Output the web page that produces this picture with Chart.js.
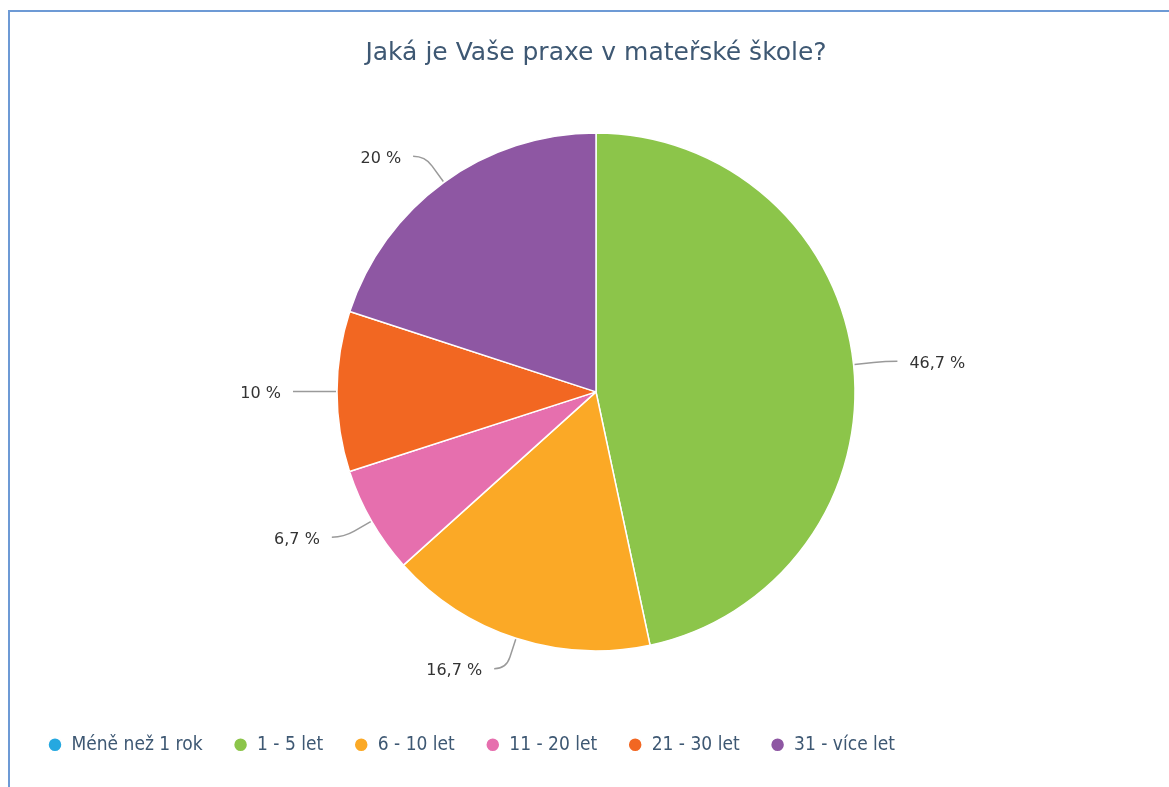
<!DOCTYPE html>
<html>
<head>
<meta charset="utf-8">
<script src="https://cdn.jsdelivr.net/npm/chart.js@4"></script>
<style>
  html, body { margin: 0; padding: 0; background: #fff; overflow: hidden; }
  #frame { position: absolute; left: 8px; top: 10px; width: 1400px; height: 1000px;
           border-top: 2px solid #6d9ad5; border-left: 2px solid #6d9ad5; }
  #wrap { position: absolute; left: 12px; top: 0; width: 1168px; height: 787px; }
</style>
</head>
<body>
<div id="frame"></div>
<div id="wrap"><canvas id="c" width="1168" height="787"></canvas></div>
<script>
const titleText = 'Jaká je Vaše praxe v mateřské škole?';
const categories = ['Méně než 1 rok', '1 - 5 let', '6 - 10 let', '11 - 20 let', '21 - 30 let', '31 - více let'];
const values = [0, 46.7, 16.7, 6.7, 10, 20];
const valueLabels = ['0 %', '46,7 %', '16,7 %', '6,7 %', '10 %', '20 %'];
const colors = ['#25a8e0', '#8cc54a', '#fba926', '#e66fae', '#f26722', '#8e57a3'];

const leaderLabels = {
  id: 'leaderLabels',
  afterDatasetsDraw(chart) {
    const ctx = chart.ctx;
    const meta = chart.getDatasetMeta(0);
    ctx.save();
    meta.data.forEach((arc, i) => {
      if (!values[i]) return;
      const p = arc.getProps(['x', 'y', 'startAngle', 'endAngle', 'outerRadius'], true);
      const a = (p.startAngle + p.endAngle) / 2;
      const c = Math.cos(a), s = Math.sin(a);
      const r = p.outerRadius;
      const sign = c >= 0 ? 1 : -1;
      const x0 = p.x + c * (r + 1), y0 = p.y + s * (r + 1);
      const xa = p.x + c * (r + 20), ya = p.y + s * (r + 20);
      const x1 = p.x + c * (r + 32), y1 = p.y + s * (r + 32);
      const x2 = x1 + sign * 12, y2 = y1;
      ctx.strokeStyle = '#9a9a9a';
      ctx.lineWidth = 1.5;
      ctx.beginPath();
      ctx.moveTo(x0, y0);
      ctx.lineTo(xa, ya);
      ctx.quadraticCurveTo(x1, y1, x2, y2);
      ctx.stroke();
      ctx.fillStyle = '#333333';
      ctx.font = '16px "DejaVu Sans"';
      ctx.textBaseline = 'middle';
      ctx.textAlign = sign > 0 ? 'left' : 'right';
      ctx.fillText(valueLabels[i], x2 + sign * 12, y2 + 2.5);
    });
    ctx.restore();
  }
};

new Chart(document.getElementById('c'), {
  type: 'pie',
  data: {
    labels: categories,
    datasets: [{
      data: values,
      backgroundColor: colors,
      borderColor: '#ffffff',
      borderWidth: 1.5
    }]
  },
  options: {
    responsive: false,
    animation: false,
    radius: 259,
    layout: { padding: { top: 0, bottom: 22.7, left: 5, right: 5 } },
    plugins: {
      title: {
        display: true,
        text: titleText,
        color: '#3e5873',
        font: { family: '"DejaVu Sans"', size: 25, weight: 'normal' },
        padding: { top: 38, bottom: 11.5 }
      },
      legend: {
        display: true,
        position: 'bottom',
        align: 'start',
        labels: {
          usePointStyle: true,
          pointStyle: 'circle',
          pointStyleWidth: 14,
          boxWidth: 14,
          boxHeight: 10,
          padding: 31,
          color: '#3e5873',
          font: { family: '"DejaVu Sans Condensed"', size: 19 }
        }
      },
      tooltip: { enabled: false }
    }
  },
  plugins: [leaderLabels]
});
</script>
</body>
</html>
